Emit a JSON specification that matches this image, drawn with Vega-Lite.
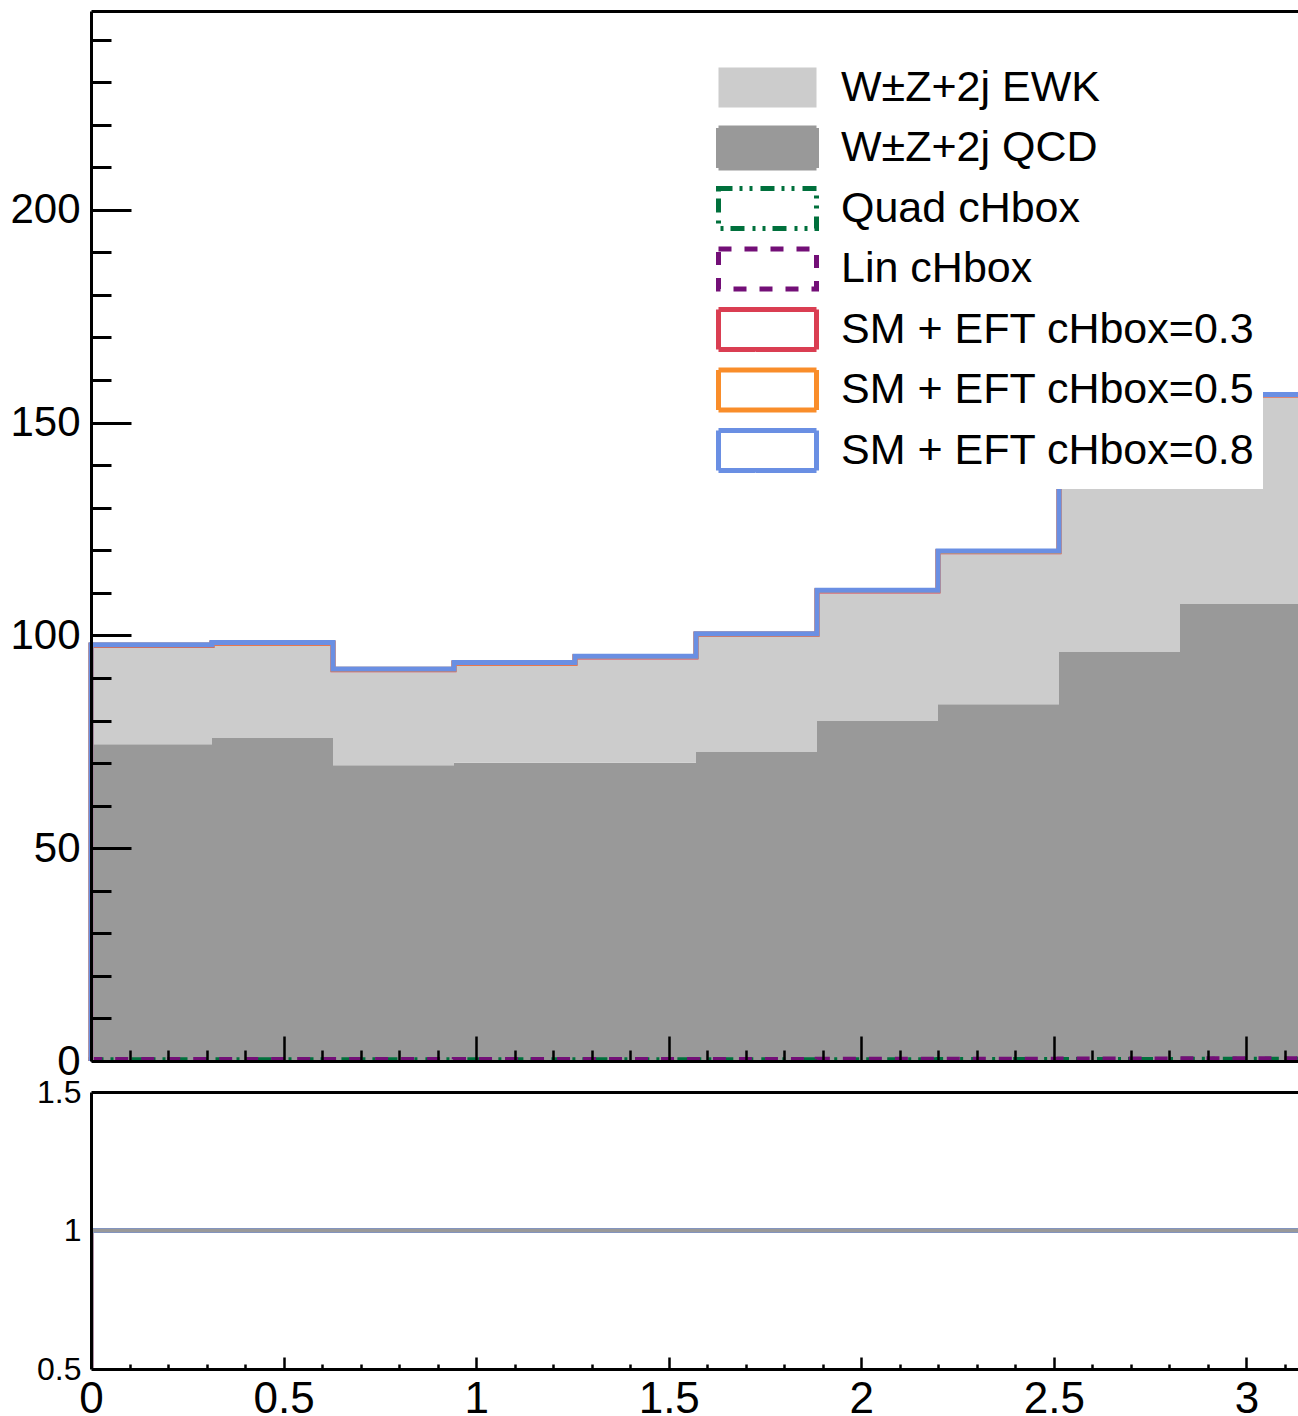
{
  "$schema": "https://vega.github.io/schema/vega-lite/v6.json",
  "background": "white",
  "padding": {"left": 9, "top": 11, "right": 0, "bottom": 0},
  "datasets": {
    "hist": [
      {"s": "W±Z+2j QCD", "lo": 0, "hi": 0.31416, "n": 74.4, "k": 1},
      {"s": "W±Z+2j QCD", "lo": 0.31416, "hi": 0.62832, "n": 75.9, "k": 1},
      {"s": "W±Z+2j QCD", "lo": 0.62832, "hi": 0.94248, "n": 69.5, "k": 1},
      {"s": "W±Z+2j QCD", "lo": 0.94248, "hi": 1.25664, "n": 70.1, "k": 1},
      {"s": "W±Z+2j QCD", "lo": 1.25664, "hi": 1.5708, "n": 70.1, "k": 1},
      {"s": "W±Z+2j QCD", "lo": 1.5708, "hi": 1.88496, "n": 72.7, "k": 1},
      {"s": "W±Z+2j QCD", "lo": 1.88496, "hi": 2.19911, "n": 80.0, "k": 1},
      {"s": "W±Z+2j QCD", "lo": 2.19911, "hi": 2.51327, "n": 83.8, "k": 1},
      {"s": "W±Z+2j QCD", "lo": 2.51327, "hi": 2.82743, "n": 96.1, "k": 1},
      {"s": "W±Z+2j QCD", "lo": 2.82743, "hi": 3.14159, "n": 107.4, "k": 1},
      {"s": "W±Z+2j EWK", "lo": 0, "hi": 0.31416, "n": 23.4, "k": 2},
      {"s": "W±Z+2j EWK", "lo": 0.31416, "hi": 0.62832, "n": 22.4, "k": 2},
      {"s": "W±Z+2j EWK", "lo": 0.62832, "hi": 0.94248, "n": 22.6, "k": 2},
      {"s": "W±Z+2j EWK", "lo": 0.94248, "hi": 1.25664, "n": 23.5, "k": 2},
      {"s": "W±Z+2j EWK", "lo": 1.25664, "hi": 1.5708, "n": 25.0, "k": 2},
      {"s": "W±Z+2j EWK", "lo": 1.5708, "hi": 1.88496, "n": 27.7, "k": 2},
      {"s": "W±Z+2j EWK", "lo": 1.88496, "hi": 2.19911, "n": 30.6, "k": 2},
      {"s": "W±Z+2j EWK", "lo": 2.19911, "hi": 2.51327, "n": 36.0, "k": 2},
      {"s": "W±Z+2j EWK", "lo": 2.51327, "hi": 2.82743, "n": 41.9, "k": 2},
      {"s": "W±Z+2j EWK", "lo": 2.82743, "hi": 3.14159, "n": 49.2, "k": 2}
    ],
    "lines": [
      {"s": "Quad cHbox", "x": 0, "v": 0, "o": 0},
      {"s": "Quad cHbox", "x": 0, "v": 0.35, "o": 1},
      {"s": "Quad cHbox", "x": 0.31416, "v": 0.35, "o": 2},
      {"s": "Quad cHbox", "x": 0.62832, "v": 0.33, "o": 3},
      {"s": "Quad cHbox", "x": 0.94248, "v": 0.34, "o": 4},
      {"s": "Quad cHbox", "x": 1.25664, "v": 0.34, "o": 5},
      {"s": "Quad cHbox", "x": 1.5708, "v": 0.36, "o": 6},
      {"s": "Quad cHbox", "x": 1.88496, "v": 0.38, "o": 7},
      {"s": "Quad cHbox", "x": 2.19911, "v": 0.4, "o": 8},
      {"s": "Quad cHbox", "x": 2.51327, "v": 0.43, "o": 9},
      {"s": "Quad cHbox", "x": 2.82743, "v": 0.47, "o": 10},
      {"s": "Quad cHbox", "x": 3.14159, "v": 0.47, "o": 11},
      {"s": "Quad cHbox", "x": 3.14159, "v": 0, "o": 12},
      {"s": "Lin cHbox", "x": 0, "v": 0, "o": 0},
      {"s": "Lin cHbox", "x": 0, "v": 0.42, "o": 1},
      {"s": "Lin cHbox", "x": 0.31416, "v": 0.43, "o": 2},
      {"s": "Lin cHbox", "x": 0.62832, "v": 0.41, "o": 3},
      {"s": "Lin cHbox", "x": 0.94248, "v": 0.42, "o": 4},
      {"s": "Lin cHbox", "x": 1.25664, "v": 0.42, "o": 5},
      {"s": "Lin cHbox", "x": 1.5708, "v": 0.44, "o": 6},
      {"s": "Lin cHbox", "x": 1.88496, "v": 0.46, "o": 7},
      {"s": "Lin cHbox", "x": 2.19911, "v": 0.48, "o": 8},
      {"s": "Lin cHbox", "x": 2.51327, "v": 0.52, "o": 9},
      {"s": "Lin cHbox", "x": 2.82743, "v": 0.56, "o": 10},
      {"s": "Lin cHbox", "x": 3.14159, "v": 0.56, "o": 11},
      {"s": "Lin cHbox", "x": 3.14159, "v": 0, "o": 12},
      {"s": "SM + EFT cHbox=0.3", "x": 0, "v": 0, "o": 0},
      {"s": "SM + EFT cHbox=0.3", "x": 0, "v": 97.65, "o": 1},
      {"s": "SM + EFT cHbox=0.3", "x": 0.31416, "v": 98.15, "o": 2},
      {"s": "SM + EFT cHbox=0.3", "x": 0.62832, "v": 91.95, "o": 3},
      {"s": "SM + EFT cHbox=0.3", "x": 0.94248, "v": 93.45, "o": 4},
      {"s": "SM + EFT cHbox=0.3", "x": 1.25664, "v": 94.95, "o": 5},
      {"s": "SM + EFT cHbox=0.3", "x": 1.5708, "v": 100.25, "o": 6},
      {"s": "SM + EFT cHbox=0.3", "x": 1.88496, "v": 110.45, "o": 7},
      {"s": "SM + EFT cHbox=0.3", "x": 2.19911, "v": 119.65, "o": 8},
      {"s": "SM + EFT cHbox=0.3", "x": 2.51327, "v": 137.85, "o": 9},
      {"s": "SM + EFT cHbox=0.3", "x": 2.82743, "v": 156.45, "o": 10},
      {"s": "SM + EFT cHbox=0.3", "x": 3.14159, "v": 156.45, "o": 11},
      {"s": "SM + EFT cHbox=0.3", "x": 3.14159, "v": 0, "o": 12},
      {"s": "SM + EFT cHbox=0.5", "x": 0, "v": 0, "o": 0},
      {"s": "SM + EFT cHbox=0.5", "x": 0, "v": 97.72, "o": 1},
      {"s": "SM + EFT cHbox=0.5", "x": 0.31416, "v": 98.22, "o": 2},
      {"s": "SM + EFT cHbox=0.5", "x": 0.62832, "v": 92.02, "o": 3},
      {"s": "SM + EFT cHbox=0.5", "x": 0.94248, "v": 93.52, "o": 4},
      {"s": "SM + EFT cHbox=0.5", "x": 1.25664, "v": 95.02, "o": 5},
      {"s": "SM + EFT cHbox=0.5", "x": 1.5708, "v": 100.32, "o": 6},
      {"s": "SM + EFT cHbox=0.5", "x": 1.88496, "v": 110.52, "o": 7},
      {"s": "SM + EFT cHbox=0.5", "x": 2.19911, "v": 119.72, "o": 8},
      {"s": "SM + EFT cHbox=0.5", "x": 2.51327, "v": 137.92, "o": 9},
      {"s": "SM + EFT cHbox=0.5", "x": 2.82743, "v": 156.52, "o": 10},
      {"s": "SM + EFT cHbox=0.5", "x": 3.14159, "v": 156.52, "o": 11},
      {"s": "SM + EFT cHbox=0.5", "x": 3.14159, "v": 0, "o": 12},
      {"s": "SM + EFT cHbox=0.8", "x": 0, "v": 0, "o": 0},
      {"s": "SM + EFT cHbox=0.8", "x": 0, "v": 97.8, "o": 1},
      {"s": "SM + EFT cHbox=0.8", "x": 0.31416, "v": 98.3, "o": 2},
      {"s": "SM + EFT cHbox=0.8", "x": 0.62832, "v": 92.1, "o": 3},
      {"s": "SM + EFT cHbox=0.8", "x": 0.94248, "v": 93.6, "o": 4},
      {"s": "SM + EFT cHbox=0.8", "x": 1.25664, "v": 95.1, "o": 5},
      {"s": "SM + EFT cHbox=0.8", "x": 1.5708, "v": 100.4, "o": 6},
      {"s": "SM + EFT cHbox=0.8", "x": 1.88496, "v": 110.6, "o": 7},
      {"s": "SM + EFT cHbox=0.8", "x": 2.19911, "v": 119.8, "o": 8},
      {"s": "SM + EFT cHbox=0.8", "x": 2.51327, "v": 138.0, "o": 9},
      {"s": "SM + EFT cHbox=0.8", "x": 2.82743, "v": 156.6, "o": 10},
      {"s": "SM + EFT cHbox=0.8", "x": 3.14159, "v": 156.6, "o": 11},
      {"s": "SM + EFT cHbox=0.8", "x": 3.14159, "v": 0, "o": 12}
    ],
    "ratio": [
      {"s": "SM + EFT cHbox=0.3", "x": 0, "v": 0, "o": 0},
      {"s": "SM + EFT cHbox=0.3", "x": 0, "v": 1, "o": 1},
      {"s": "SM + EFT cHbox=0.3", "x": 0.31416, "v": 1, "o": 2},
      {"s": "SM + EFT cHbox=0.3", "x": 0.62832, "v": 1, "o": 3},
      {"s": "SM + EFT cHbox=0.3", "x": 0.94248, "v": 1, "o": 4},
      {"s": "SM + EFT cHbox=0.3", "x": 1.25664, "v": 1, "o": 5},
      {"s": "SM + EFT cHbox=0.3", "x": 1.5708, "v": 1, "o": 6},
      {"s": "SM + EFT cHbox=0.3", "x": 1.88496, "v": 1, "o": 7},
      {"s": "SM + EFT cHbox=0.3", "x": 2.19911, "v": 1, "o": 8},
      {"s": "SM + EFT cHbox=0.3", "x": 2.51327, "v": 1, "o": 9},
      {"s": "SM + EFT cHbox=0.3", "x": 2.82743, "v": 1, "o": 10},
      {"s": "SM + EFT cHbox=0.3", "x": 3.14159, "v": 1, "o": 11},
      {"s": "SM + EFT cHbox=0.3", "x": 3.14159, "v": 0, "o": 12},
      {"s": "SM + EFT cHbox=0.5", "x": 0, "v": 0, "o": 0},
      {"s": "SM + EFT cHbox=0.5", "x": 0, "v": 1, "o": 1},
      {"s": "SM + EFT cHbox=0.5", "x": 0.31416, "v": 1, "o": 2},
      {"s": "SM + EFT cHbox=0.5", "x": 0.62832, "v": 1, "o": 3},
      {"s": "SM + EFT cHbox=0.5", "x": 0.94248, "v": 1, "o": 4},
      {"s": "SM + EFT cHbox=0.5", "x": 1.25664, "v": 1, "o": 5},
      {"s": "SM + EFT cHbox=0.5", "x": 1.5708, "v": 1, "o": 6},
      {"s": "SM + EFT cHbox=0.5", "x": 1.88496, "v": 1, "o": 7},
      {"s": "SM + EFT cHbox=0.5", "x": 2.19911, "v": 1, "o": 8},
      {"s": "SM + EFT cHbox=0.5", "x": 2.51327, "v": 1, "o": 9},
      {"s": "SM + EFT cHbox=0.5", "x": 2.82743, "v": 1, "o": 10},
      {"s": "SM + EFT cHbox=0.5", "x": 3.14159, "v": 1, "o": 11},
      {"s": "SM + EFT cHbox=0.5", "x": 3.14159, "v": 0, "o": 12},
      {"s": "SM + EFT cHbox=0.8", "x": 0, "v": 0, "o": 0},
      {"s": "SM + EFT cHbox=0.8", "x": 0, "v": 1, "o": 1},
      {"s": "SM + EFT cHbox=0.8", "x": 0.31416, "v": 1, "o": 2},
      {"s": "SM + EFT cHbox=0.8", "x": 0.62832, "v": 1, "o": 3},
      {"s": "SM + EFT cHbox=0.8", "x": 0.94248, "v": 1, "o": 4},
      {"s": "SM + EFT cHbox=0.8", "x": 1.25664, "v": 1, "o": 5},
      {"s": "SM + EFT cHbox=0.8", "x": 1.5708, "v": 1, "o": 6},
      {"s": "SM + EFT cHbox=0.8", "x": 1.88496, "v": 1, "o": 7},
      {"s": "SM + EFT cHbox=0.8", "x": 2.19911, "v": 1, "o": 8},
      {"s": "SM + EFT cHbox=0.8", "x": 2.51327, "v": 1, "o": 9},
      {"s": "SM + EFT cHbox=0.8", "x": 2.82743, "v": 1, "o": 10},
      {"s": "SM + EFT cHbox=0.8", "x": 3.14159, "v": 1, "o": 11},
      {"s": "SM + EFT cHbox=0.8", "x": 3.14159, "v": 0, "o": 12}
    ]
  },
  "vconcat": [
    {
      "width": 1210,
      "height": 1050,
      "resolve": {"axis": {"x": "independent", "y": "independent"}},
      "layer": [
        {
          "data": {"name": "hist"},
          "transform": [
            {"stack": "n", "groupby": ["lo"], "sort": [{"field": "k", "order": "ascending"}], "as": ["y0", "y1"]}
          ],
          "mark": {"type": "rect", "strokeWidth": 0},
          "encoding": {
            "x": {"field": "lo", "type": "quantitative", "scale": {"domain": [0, 3.14159], "nice": false, "zero": false},
                  "axis": {"orient": "bottom", "title": null, "domain": true, "ticks": true, "tickSize": -25, "tickWidth": 2.5, "values": [0.5, 1, 1.5, 2, 2.5, 3], "labels": false, "zindex": 2}},
            "x2": {"field": "hi"},
            "y": {"field": "y0", "type": "quantitative", "scale": {"domain": [0, 246.7], "nice": false, "zero": false},
                  "axis": {"orient": "left", "title": null, "domain": true, "ticks": false, "labels": true, "values": [0, 50, 100, 150, 200], "format": "~r", "labelFontSize": 42, "labelPadding": 11, "zindex": 2}},
            "y2": {"field": "y1"},
            "color": {
              "field": "s", "type": "nominal",
              "scale": {
                "domain": ["W±Z+2j EWK", "W±Z+2j QCD", "Quad cHbox", "Lin cHbox", "SM + EFT cHbox=0.3", "SM + EFT cHbox=0.5", "SM + EFT cHbox=0.8"],
                "range": ["#cccccc", "#999999", "#00703c", "#730f77", "#da3e52", "#f98d2a", "#6a8fe3"]
              },
              "legend": {
                "orient": "none", "legendX": 646, "legendY": 46, "title": null, "zindex": 5,
                "padding": 8, "fillColor": "white", "strokeColor": null,
                "symbolType": "M-2.45,-1H2.45V1H-2.45Z", "symbolSize": 1600, "symbolStrokeWidth": 5,
                "labelFont": "Liberation Sans", "labelFontSize": 43, "labelColor": "black", "labelLimit": 0,
                "labelOffset": 51, "rowPadding": -0.5, "gridAlign": "all",
                "encode": {
                  "symbols": {
                    "update": {
                      "shape": {"value": "M-2.45,-1H2.45V1H-2.45Z"},
                      "fill": {"signal": "scale('color', datum.value)"},
                      "fillOpacity": {"signal": "(datum.value === 'W±Z+2j EWK' || datum.value === 'W±Z+2j QCD') ? 1 : 0"},
                      "stroke": {"signal": "scale('color', datum.value)"},
                      "strokeOpacity": {"signal": "datum.value === 'W±Z+2j EWK' ? 0 : 1"},
                      "strokeDash": {"signal": "datum.value === 'Quad cHbox' ? [14,7,3,7,3,8] : datum.value === 'Lin cHbox' ? [13,13] : [1,0]"},
                      "strokeWidth": {"value": 5},
                      "opacity": {"value": 1}
                    }
                  }
                }
              }
            }
          }
        },
        {
          "data": {"name": "lines"},
          "transform": [{"filter": "datum.s === 'Quad cHbox'"}],
          "mark": {"type": "line", "interpolate": "step-after", "strokeWidth": 4.5, "strokeDash": [14, 7, 3, 7, 3, 8]},
          "encoding": {
            "x": {"field": "x", "type": "quantitative",
                  "axis": {"orient": "bottom", "title": null, "domain": false, "ticks": true, "tickSize": -11, "tickWidth": 2.5, "labels": false, "values": [0.1,0.2,0.3,0.4,0.6,0.7,0.8,0.9,1.1,1.2,1.3,1.4,1.6,1.7,1.8,1.9,2.1,2.2,2.3,2.4,2.6,2.7,2.8,2.9,3.1], "zindex": 2}},
            "y": {"field": "v", "type": "quantitative",
                  "axis": {"orient": "left", "title": null, "domain": false, "ticks": true, "tickSize": -40, "tickWidth": 3, "labels": false, "values": [50, 100, 150, 200], "zindex": 2}},
            "color": {"field": "s", "type": "nominal"},
            "order": {"field": "o", "type": "quantitative"}
          }
        },
        {
          "data": {"name": "lines"},
          "transform": [{"filter": "datum.s === 'Lin cHbox'"}],
          "mark": {"type": "line", "interpolate": "step-after", "strokeWidth": 4.5, "strokeDash": [13, 13]},
          "encoding": {
            "x": {"field": "x", "type": "quantitative",
                  "axis": {"orient": "top", "title": null, "domain": true, "ticks": false, "labels": false, "zindex": 2}},
            "y": {"field": "v", "type": "quantitative",
                  "axis": {"orient": "left", "title": null, "domain": false, "ticks": true, "tickSize": -20, "tickWidth": 3, "labels": false, "values": [10,20,30,40,60,70,80,90,110,120,130,140,160,170,180,190,210,220,230,240], "zindex": 2}},
            "color": {"field": "s", "type": "nominal"},
            "order": {"field": "o", "type": "quantitative"}
          }
        },
        {
          "data": {"name": "lines"},
          "transform": [{"filter": {"field": "s", "oneOf": ["SM + EFT cHbox=0.3", "SM + EFT cHbox=0.5", "SM + EFT cHbox=0.8"]}}],
          "mark": {"type": "line", "interpolate": "step-after", "strokeWidth": 5},
          "encoding": {
            "x": {"field": "x", "type": "quantitative", "axis": null},
            "y": {"field": "v", "type": "quantitative", "axis": null},
            "color": {"field": "s", "type": "nominal"},
            "order": {"field": "o", "type": "quantitative"}
          }
        }
      ]
    },
    {
      "width": 1210,
      "height": 277,
      "resolve": {"axis": {"x": "independent", "y": "independent"}},
      "layer": [
        {
          "data": {"name": "ratio"},
          "transform": [{"filter": "datum.s === 'SM + EFT cHbox=0.3'"}],
          "mark": {"type": "line", "interpolate": "step-after", "strokeWidth": 5, "color": "#da3e52", "clip": true},
          "encoding": {
            "x": {"field": "x", "type": "quantitative", "scale": {"domain": [0, 3.14159], "nice": false, "zero": false},
                  "axis": {"orient": "bottom", "title": null, "domain": true, "ticks": false, "labels": true, "values": [0, 0.5, 1, 1.5, 2, 2.5, 3], "format": "~r", "labelFontSize": 44, "labelPadding": 8, "zindex": 2}},
            "y": {"field": "v", "type": "quantitative", "scale": {"domain": [0.5, 1.5], "nice": false, "zero": false},
                  "axis": {"orient": "left", "title": null, "domain": true, "ticks": false, "labels": true, "values": [0.5, 1, 1.5], "format": "~r", "labelFontSize": 32, "labelPadding": 10, "zindex": 2}},
            "order": {"field": "o", "type": "quantitative"}
          }
        },
        {
          "data": {"name": "ratio"},
          "transform": [{"filter": "datum.s === 'SM + EFT cHbox=0.5'"}],
          "mark": {"type": "line", "interpolate": "step-after", "strokeWidth": 5, "color": "#f98d2a", "clip": true},
          "encoding": {
            "x": {"field": "x", "type": "quantitative",
                  "axis": {"orient": "bottom", "title": null, "domain": false, "ticks": true, "tickSize": -12, "tickWidth": 2.5, "labels": false, "values": [0.5, 1, 1.5, 2, 2.5, 3], "zindex": 2}},
            "y": {"field": "v", "type": "quantitative", "axis": null},
            "order": {"field": "o", "type": "quantitative"}
          }
        },
        {
          "data": {"name": "ratio"},
          "transform": [{"filter": "datum.s === 'SM + EFT cHbox=0.8'"}],
          "mark": {"type": "line", "interpolate": "step-after", "strokeWidth": 5, "color": "#6a8fe3", "clip": true},
          "encoding": {
            "x": {"field": "x", "type": "quantitative",
                  "axis": {"orient": "bottom", "title": null, "domain": false, "ticks": true, "tickSize": -5, "tickWidth": 2.5, "labels": false, "values": [0.1,0.2,0.3,0.4,0.6,0.7,0.8,0.9,1.1,1.2,1.3,1.4,1.6,1.7,1.8,1.9,2.1,2.2,2.3,2.4,2.6,2.7,2.8,2.9,3.1], "zindex": 2}},
            "y": {"field": "v", "type": "quantitative", "axis": null},
            "order": {"field": "o", "type": "quantitative"}
          }
        },
        {
          "data": {"values": [{"ref": 1}]},
          "mark": {"type": "rule", "color": "#999999", "strokeWidth": 4},
          "encoding": {
            "x": {"datum": 0, "type": "quantitative",
                  "axis": {"orient": "top", "title": null, "domain": true, "ticks": false, "labels": false, "zindex": 2}},
            "x2": {"datum": 3.14159},
            "y": {"field": "ref", "type": "quantitative", "axis": null}
          }
        }
      ]
    }
  ],
  "spacing": 31,
  "bounds": "flush",
  "config": {
    "view": {"stroke": null},
    "axis": {"grid": false, "labelFlush": false, "labelFont": "Liberation Sans", "labelColor": "black", "tickColor": "black", "domainColor": "black", "domainWidth": 3, "zindex": 2}
  }
}
